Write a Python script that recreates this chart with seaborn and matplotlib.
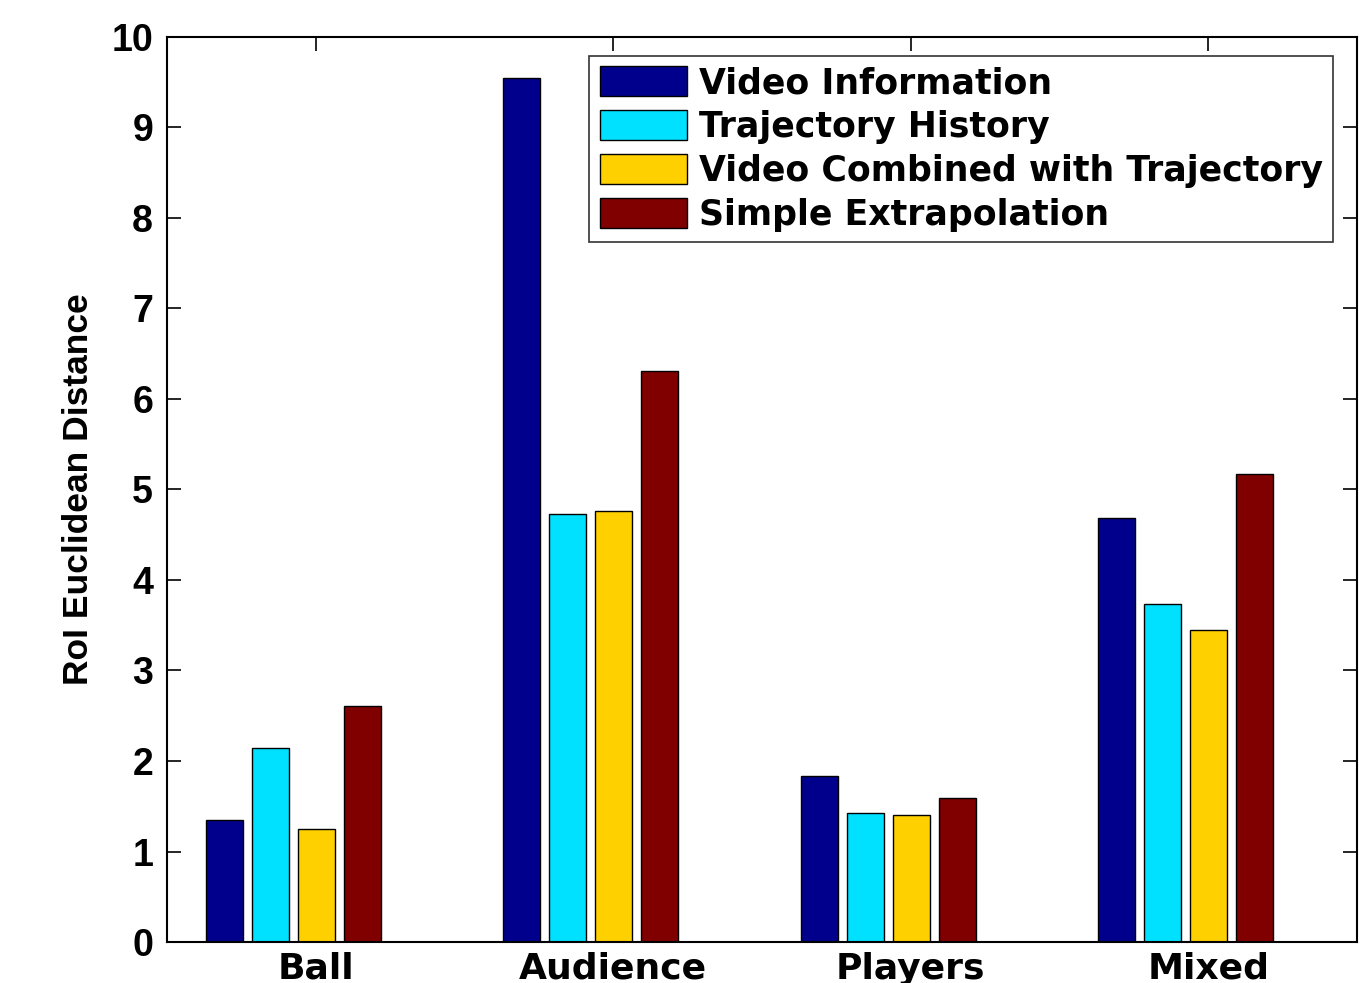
import matplotlib
matplotlib.use("Agg")
import matplotlib.pyplot as plt
import seaborn as sns
import pandas as pd

categories = ["Ball", "Audience", "Players", "Mixed"]
methods = ["Video Information", "Trajectory History",
           "Video Combined with Trajectory", "Simple Extrapolation"]
video_info = [1.35, 9.55, 1.83, 4.69]
trajectory_history = [2.14, 4.73, 1.43, 3.73]
video_combined = [1.25, 4.76, 1.40, 3.45]
simple_extrap = [2.61, 6.31, 1.59, 5.17]
palette = ["#00008C", "#00E0FF", "#FFD000", "#800000"]

rows = []
for m, vals in zip(methods, [video_info, trajectory_history, video_combined, simple_extrap]):
    for c, v in zip(categories, vals):
        rows.append({"category": c, "method": m, "value": v})
df = pd.DataFrame(rows)

sns.set_style("white", rc={"text.color": "black", "axes.labelcolor": "black",
                           "xtick.color": "black", "ytick.color": "black"})
fig = plt.figure(figsize=(13.71, 9.83), dpi=100)
ax = fig.add_axes([0.1218, 0.0417, 0.8680, 0.9207])

sns.barplot(data=df, x="category", y="value", hue="method", order=categories,
            hue_order=methods, palette=palette, width=0.62, gap=0.2,
            edgecolor="black", linewidth=1.0, saturation=1, ax=ax)

# groups sit slightly left of the category ticks
shift = 0.0756
ax.set_xlim(-0.5 + shift, 3.5 + shift)
ax.set_xticks([i + shift for i in range(len(categories))])
ax.set_xticklabels(categories)
ax.set_ylim(0, 10)
ax.set_yticks(range(0, 11))
ax.set_xlabel("")
ax.set_ylabel("RoI Euclidean Distance", fontsize=25.5, fontweight="bold",
              family="Liberation Sans", labelpad=12)
for s in ax.spines.values():
    s.set_linewidth(1.5)
    s.set_color("black")
ax.tick_params(axis="both", direction="in", length=10, width=1.2,
               top=True, right=True, bottom=False, left=True)
ax.tick_params(axis="y", pad=10)
ax.tick_params(axis="x", pad=7)
for lab in ax.get_yticklabels():
    lab.set_fontsize(27)
    lab.set_fontweight("bold")
    lab.set_family("Liberation Sans")
for lab in ax.get_xticklabels():
    lab.set_fontsize(26)
    lab.set_fontweight("bold")
    lab.set_family("DejaVu Sans")

leg = ax.legend(loc="upper right", bbox_to_anchor=(0.98, 0.979), frameon=True,
                fancybox=False, edgecolor="black", handlelength=2.5,
                handleheight=0.95, labelspacing=0.28, borderpad=0.3,
                borderaxespad=0, handletextpad=0.35,
                prop={"family": "DejaVu Sans", "weight": "bold", "size": 25})
leg.get_frame().set_linewidth(1.2)

fig.savefig("out.png", dpi=100)
